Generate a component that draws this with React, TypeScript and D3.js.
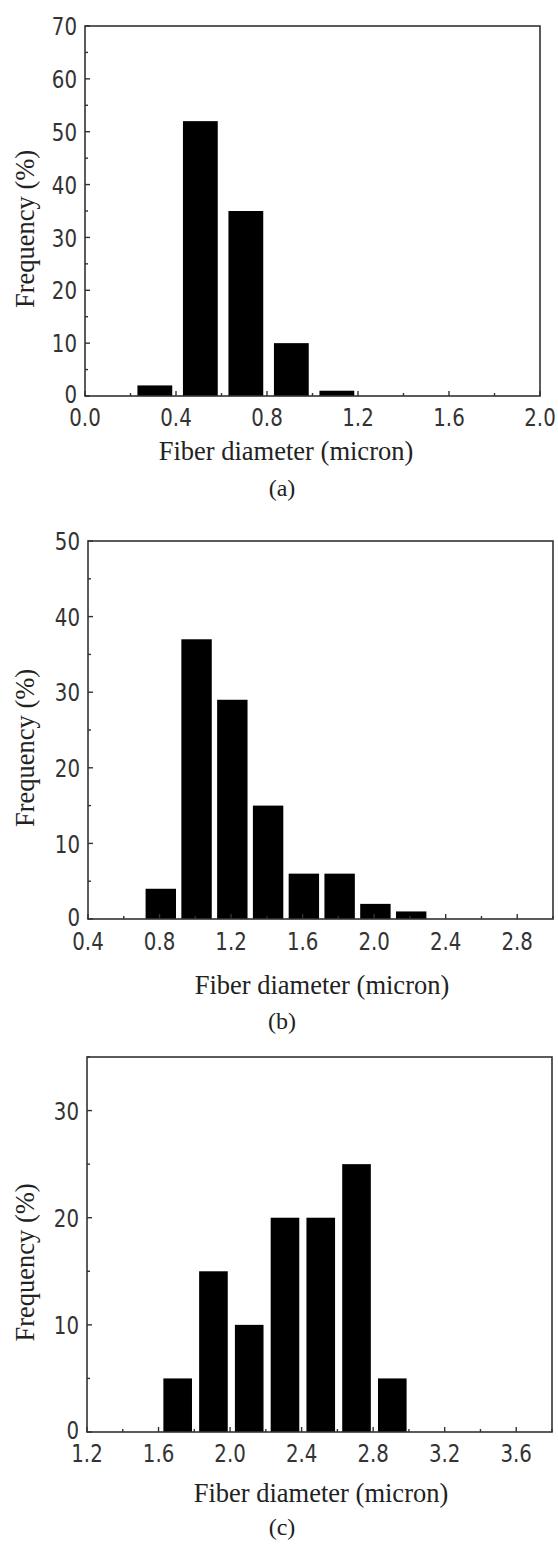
import { useEffect, useRef } from 'react';
import * as d3 from 'd3';

// (a) bins and frequencies
const binsA = [0.3, 0.5, 0.7, 0.9, 1.1];
const freqA = [2, 52, 35, 10, 1];
const xTicksA = [0.0, 0.4, 0.8, 1.2, 1.6, 2.0];
const yTicksA = [0, 10, 20, 30, 40, 50, 60, 70];

// (b)
const binsB = [0.8, 1.0, 1.2, 1.4, 1.6, 1.8, 2.0, 2.2];
const freqB = [4, 37, 29, 15, 6, 6, 2, 1];
const xTicksB = [0.4, 0.8, 1.2, 1.6, 2.0, 2.4, 2.8];
const yTicksB = [0, 10, 20, 30, 40, 50];

// (c)
const binsC = [1.7, 1.9, 2.1, 2.3, 2.5, 2.7, 2.9];
const freqC = [5, 15, 10, 20, 20, 25, 5];
const xTicksC = [1.2, 1.6, 2.0, 2.4, 2.8, 3.2, 3.6];
const yTicksC = [0, 10, 20, 30];

const panelLabels = ['(a)', '(b)', '(c)'];
const xTitle = 'Fiber diameter (micron)';
const yTitle = 'Frequency (%)';

const W = 558;
const H = 1545;

const App = () => {
  const svgRef = useRef<SVGSVGElement | null>(null);

  useEffect(() => {
    const svg = d3.select(svgRef.current);
    svg.selectAll('*').remove();

    const panels = [
      {
        bins: binsA, freq: freqA, xTicks: xTicksA, yTicks: yTicksA,
        xDomain: [0, 2.0], yDomain: [0, 70],
        left: 85, right: 540, top: 26, bottom: 396,
        barW: 0.153, tickLabelY: 417, titleX: 286, titleY: 451, yTitleX: 25, tagY: 488,
      },
      {
        bins: binsB, freq: freqB, xTicks: xTicksB, yTicks: yTicksB,
        xDomain: [0.4, 3.0], yDomain: [0, 50],
        left: 88, right: 553, top: 541, bottom: 919,
        barW: 0.17, tickLabelY: 941, titleX: 322, titleY: 985, yTitleX: 25, tagY: 1021,
      },
      {
        bins: binsC, freq: freqC, xTicks: xTicksC, yTicks: yTicksC,
        xDomain: [1.2, 3.8], yDomain: [0, 35],
        left: 87, right: 552, top: 1057, bottom: 1432,
        barW: 0.16, tickLabelY: 1453, titleX: 321, titleY: 1493, yTitleX: 25, tagY: 1527,
      },
    ];

    const stretch = 1.15;
    const tickFont = '"DejaVu Sans Condensed", "DejaVu Sans", sans-serif';
    const serif = '"Liberation Serif", "Times New Roman", serif';

    panels.forEach((p, pi) => {
      const x = d3.scaleLinear().domain(p.xDomain).range([p.left, p.right]);
      const y = d3.scaleLinear().domain(p.yDomain).range([p.bottom, p.top]);
      const g = svg.append('g');

      // bars
      g.selectAll(null)
        .data(p.bins.map((b, i) => ({ b, f: p.freq[i] })))
        .enter()
        .append('rect')
        .attr('x', d => x(d.b + 0.007 - p.barW / 2))
        .attr('width', d => x(d.b + 0.007 + p.barW / 2) - x(d.b + 0.007 - p.barW / 2))
        .attr('y', d => y(d.f))
        .attr('height', d => y(0) - y(d.f))
        .attr('fill', '#000');

      // frame
      g.append('rect')
        .attr('x', p.left)
        .attr('y', p.top)
        .attr('width', p.right - p.left)
        .attr('height', p.bottom - p.top)
        .attr('fill', 'none')
        .attr('stroke', '#333')
        .attr('stroke-width', 1.6);

      // x ticks (inward), major + minor
      const xStep = p.xTicks[1] - p.xTicks[0];
      const xMinor = d3.range(p.xDomain[0], p.xDomain[1] + 1e-6, xStep / 2);
      xMinor.forEach((v, i) => {
        const len = i % 2 === 0 ? 5 : 3;
        g.append('line')
          .attr('x1', x(v)).attr('x2', x(v))
          .attr('y1', p.bottom).attr('y2', p.bottom - len)
          .attr('stroke', '#333').attr('stroke-width', 1.4);
      });

      const yStep = p.yTicks[1] - p.yTicks[0];
      const yMinor = d3.range(p.yDomain[0], p.yDomain[1] + 1e-6, yStep / 2);
      yMinor.forEach((v, i) => {
        const len = i % 2 === 0 ? 5 : 3;
        g.append('line')
          .attr('x1', p.left).attr('x2', p.left + len)
          .attr('y1', y(v)).attr('y2', y(v))
          .attr('stroke', '#333').attr('stroke-width', 1.4);
      });

      // x tick labels
      p.xTicks.forEach(v => {
        g.append('g')
          .attr('transform', `translate(${x(v)},${p.tickLabelY}) scale(1,${stretch})`)
          .append('text')
          .attr('text-anchor', 'middle')
          .attr('dy', '0.36em')
          .attr('font-family', tickFont)
          .attr('font-size', 22)
          .attr('fill', '#333')
          .text(d3.format('.1f')(v));
      });

      // y tick labels
      p.yTicks.forEach(v => {
        g.append('g')
          .attr('transform', `translate(${p.left - 8},${y(v) - (v === 0 ? 2 : 0)}) scale(1,${stretch})`)
          .append('text')
          .attr('text-anchor', 'end')
          .attr('dy', '0.36em')
          .attr('font-family', tickFont)
          .attr('font-size', 22)
          .attr('fill', '#333')
          .text(String(v));
      });

      // axis titles
      g.append('text')
        .attr('x', p.titleX)
        .attr('y', p.titleY)
        .attr('text-anchor', 'middle')
        .attr('dy', '0.35em')
        .attr('font-family', serif)
        .attr('font-size', 26.5)
        .attr('fill', '#222')
        .text(xTitle);

      g.append('text')
        .attr('transform', `translate(${p.yTitleX},${(p.top + p.bottom) / 2 + 18}) rotate(-90)`)
        .attr('text-anchor', 'middle')
        .attr('dy', '0.35em')
        .attr('font-family', serif)
        .attr('font-size', 26.5)
        .attr('fill', '#222')
        .text(yTitle);

      g.append('text')
        .attr('x', 282)
        .attr('y', p.tagY)
        .attr('text-anchor', 'middle')
        .attr('dy', '0.35em')
        .attr('font-family', serif)
        .attr('font-size', 24)
        .attr('fill', '#222')
        .text(panelLabels[pi]);
    });
  }, []);

  return (
    <svg
      ref={svgRef}
      width={W}
      height={H}
      style={{ position: 'absolute', left: 0, top: 0, background: '#fff' }}
    />
  );
};

export default App;
